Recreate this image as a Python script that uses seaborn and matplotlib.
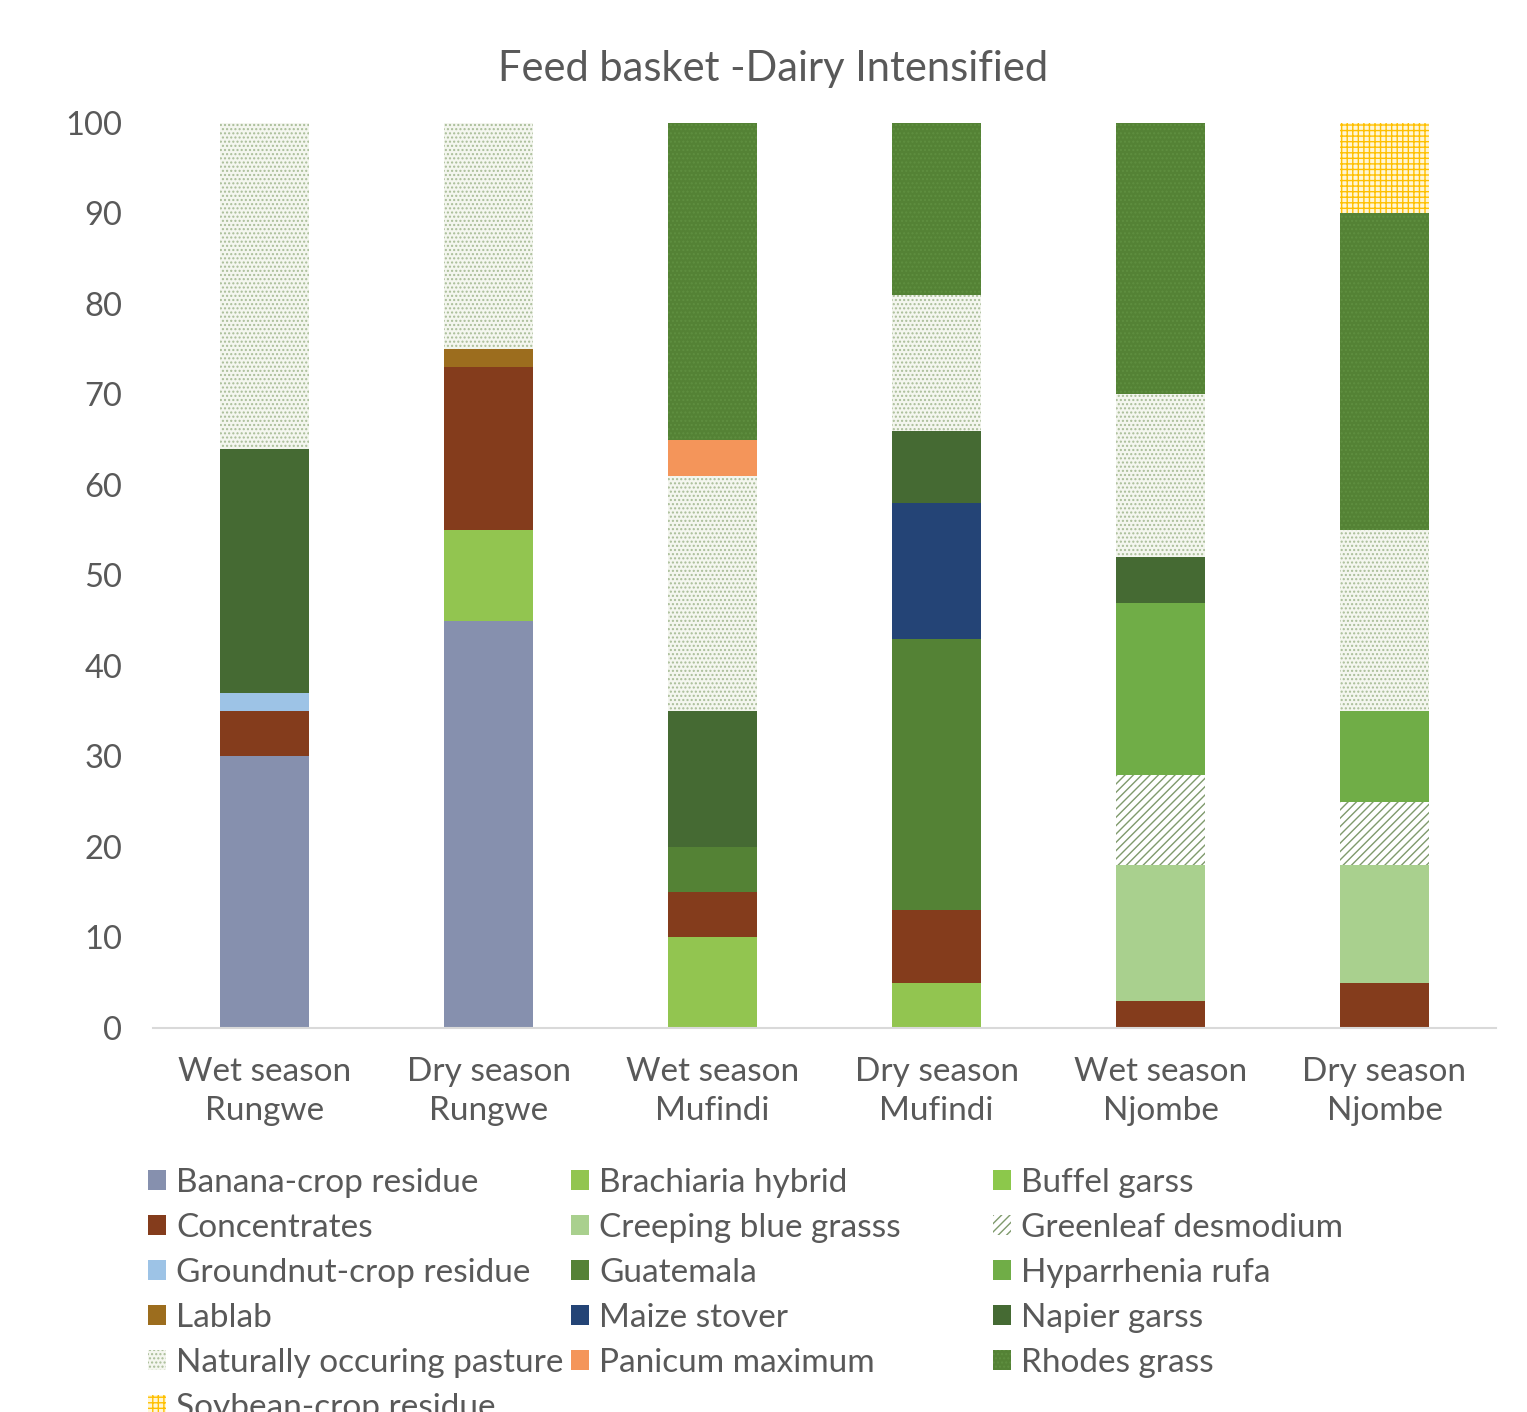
import numpy as np
import pandas as pd
import seaborn as sns
import matplotlib.pyplot as plt
from matplotlib.patches import Patch

# data (percent of feed basket)
categories = ["Wet season\nRungwe", "Dry season\nRungwe", "Wet season\nMufindi",
              "Dry season\nMufindi", "Wet season\nNjombe", "Dry season\nNjombe"]

banana      = [30, 45, 0, 0, 0, 0]
brachiaria  = [0, 10, 10, 5, 0, 0]
buffel      = [0, 0, 0, 0, 0, 0]
concentrate = [5, 18, 5, 8, 3, 5]
creeping    = [0, 0, 0, 0, 15, 13]
greenleaf   = [0, 0, 0, 0, 10, 7]
groundnut   = [2, 0, 0, 0, 0, 0]
guatemala   = [0, 0, 5, 30, 0, 0]
hyparrhenia = [0, 0, 0, 0, 19, 10]
lablab      = [0, 2, 0, 0, 0, 0]
maize       = [0, 0, 0, 15, 0, 0]
napier      = [27, 0, 15, 8, 5, 0]
natural     = [36, 25, 26, 15, 18, 20]
panicum     = [0, 0, 4, 0, 0, 0]
rhodes      = [0, 0, 35, 19, 30, 35]
soybean     = [0, 0, 0, 0, 0, 10]

series_names = ["Banana-crop residue", "Brachiaria hybrid", "Buffel garss", "Concentrates",
                "Creeping blue grasss", "Greenleaf desmodium", "Groundnut-crop residue",
                "Guatemala", "Hyparrhenia rufa", "Lablab", "Maize stover", "Napier garss",
                "Naturally occuring pasture", "Panicum maximum", "Rhodes grass",
                "Soybean-crop residue"]
series_vals = [banana, brachiaria, buffel, concentrate, creeping, greenleaf, groundnut,
               guatemala, hyparrhenia, lablab, maize, napier, natural, panicum, rhodes, soybean]

# (face, hatch colour, hatch)
styles = [
    ("#8690ae", "#8690ae", None),
    ("#92c550", "#92c550", None),
    ("#8cc84b", "#8cc84b", None),
    ("#843c1c", "#843c1c", None),
    ("#a9d08e", "#a9d08e", None),
    ("#ffffff", "#7f9a6c", "////"),
    ("#9dc3e6", "#9dc3e6", None),
    ("#548235", "#548235", None),
    ("#70ad47", "#70ad47", None),
    ("#9c6d1e", "#9c6d1e", None),
    ("#244476", "#244476", None),
    ("#456a33", "#456a33", None),
    ("#f4f6ef", "#a9bd98", "...."),
    ("#f4955a", "#f4955a", None),
    ("#548235", "#5f8f40", "...."),
    ("#fff6d5", "#ffc000", "+++"),
]

plt.rcParams['hatch.linewidth'] = 1.0
sns.set_style("white")
plt.rcParams['font.family'] = ['Lato', 'DejaVu Sans']
grey = "#595959"

df = pd.DataFrame(dict(zip(series_names, series_vals)), index=categories)
cum = df.cumsum(axis=1)

fig = plt.figure(figsize=(15.27, 14.12), dpi=100)
ax = fig.add_axes([0.100, 0.272, 0.880, 0.641])

# draw cumulative totals from the top series down, each covering the one above
for i in range(len(series_names) - 1, -1, -1):
    face, hc, hatch = styles[i]
    sns.barplot(x=categories, y=cum.iloc[:, i].values, ax=ax, color=face,
                saturation=1, width=0.4, linewidth=0, edgecolor=hc, hatch=hatch)

ax.set_ylim(0, 100)
ax.set_xlim(-0.5, 5.5)
ax.set_yticks(range(0, 101, 10))
ax.tick_params(axis='y', length=0, pad=22, labelsize=23.5, labelcolor=grey)
ax.tick_params(axis='x', length=0, pad=21, labelsize=24, labelcolor=grey)
for lbl in ax.get_xticklabels():
    lbl.set_linespacing(1.38)
for s in ["top", "right", "left"]:
    ax.spines[s].set_visible(False)
ax.spines["bottom"].set_color("#d9d9d9")
ax.spines["bottom"].set_linewidth(1.5)
ax.set_xlabel("")
ax.set_ylabel("")

fig.text(0.506, 0.951, "Feed basket -Dairy Intensified", ha="center", va="center",
         fontsize=30, color=grey)

# legend: three equal-width columns, filled row by row
handles = [Patch(facecolor=f, edgecolor=h, hatch=ht, linewidth=0) for f, h, ht in styles]
col_x = [148 / 1527, 571 / 1527, 993 / 1527]
for c in range(3):
    idx = list(range(c, len(series_names), 3))
    leg = fig.legend([handles[k] for k in idx], [series_names[k] for k in idx],
                     ncol=1, loc="upper left", bbox_to_anchor=(col_x[c], 0.173),
                     frameon=False, fontsize=24, handlelength=0.55, handleheight=0.55,
                     handletextpad=0.3, labelspacing=0.45,
                     borderpad=0, borderaxespad=0)
    for t in leg.get_texts():
        t.set_color(grey)

fig.savefig("out.png", dpi=100)
